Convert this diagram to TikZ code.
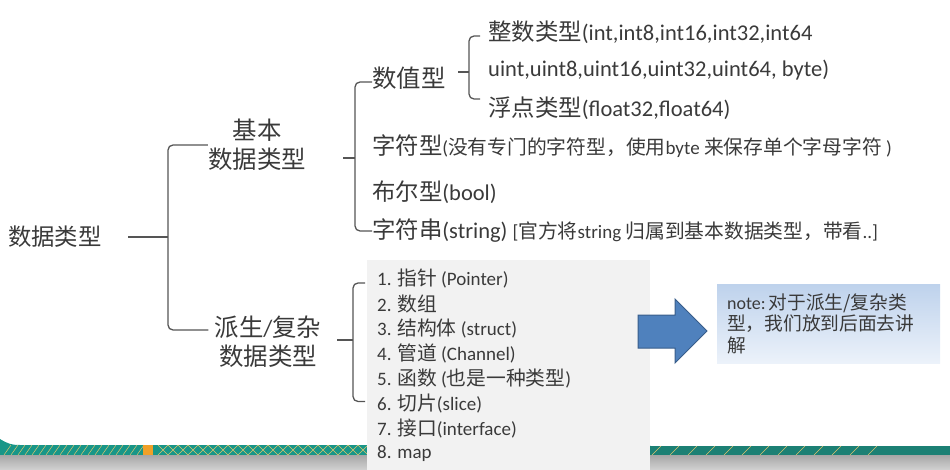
\documentclass[tikz,border=0pt]{standalone}
\usepackage{fontspec}
\setmainfont{Carlito}
\newfontfamily\zhfont[Scale=1.04]{Noto Sans CJK SC}
\newcommand{\zh}[1]{{\zhfont #1}}
\usepackage{xcolor}
\usepackage{tikz}
\usetikzlibrary{positioning,calc}

\definecolor{inkgray}{RGB}{58,58,58}
\definecolor{linegray}{RGB}{85,85,85}
\definecolor{listbg}{RGB}{242,242,242}
\definecolor{arrowblue}{RGB}{79,129,189}
\definecolor{arrowedge}{RGB}{56,93,138}
\definecolor{notetop}{RGB}{190,210,236}
\definecolor{notebot}{RGB}{236,242,250}
\definecolor{bandteal}{RGB}{24,150,136}
\definecolor{banddark}{RGB}{28,128,116}
\definecolor{bandline}{RGB}{222,196,110}
\definecolor{bandorange}{RGB}{240,160,40}

\tikzset{
  txt/.style={inner sep=0pt, anchor=west, text=inkgray},
  bigtxt/.style={txt, font=\fontsize{23.5}{29}\selectfont},
  midtxt/.style={txt, font=\fontsize{22.5}{27}\selectfont},
  itemtxt/.style={txt, font=\fontsize{19}{22}\selectfont},
  bracketline/.style={draw=linegray, line width=1.3pt, rounded corners=5pt},
}
\newcommand{\smalltxt}{\fontsize{19}{22}\selectfont}

\begin{document}
\begin{tikzpicture}[x=1pt, y=-1pt]
\useasboundingbox (0,0) rectangle (950,470);
% bottom band of the slide
\fill[bandteal] (0,439) .. controls (8,444) and (12,445) .. (20,445) -- (650,445) -- (650,455) -- (0,455) -- cycle;
\fill[banddark] (650,446) rectangle (950,455);
\shade[top color=gray!70, bottom color=gray!35] (0,455) rectangle (950,470);
\foreach \x in {4,11,...,138} {
    \draw[bandline, line width=0.5pt] (\x,455) -- (\x+7,445);
}
\fill[bandorange] (143,445) rectangle (153,455);
\foreach \x in {158,168,...,360} {
    \draw[bandline, line width=0.4pt] (\x,455) -- (\x+10,445);
    \draw[bandline, line width=0.4pt] (\x,445) -- (\x+10,455);
}
\foreach \x in {652,670,...,870} {
    \draw[bandline, line width=0.6pt] (\x,455) -- (\x+9,446);
}
% box behind the derived types
\fill[listbg] (367,260) rectangle (650,470);

% tree labels
\node[midtxt] (root) at (8,237) {\zh{数据类型}};
\node[bigtxt, anchor=center, align=center] (basic) at (257,145) {\zh{基本}\\\zh{数据类型}};
\node[bigtxt, anchor=center, align=center] (derived) at (268,342) {\zh{派生}/\zh{复杂}\\\zh{数据类型}};
\node[bigtxt] (num) at (372,78) {\zh{数值型}};
\node[midtxt] (int) at (488,32) {\zh{整数类型}(int,int8,int16,int32,int64};
\node[midtxt] (intb) at (488,70) {uint,uint8,uint16,uint32,uint64, byte)};
\node[midtxt] (float) at (488,108) {\zh{浮点类型}(float32,float64)};
\node[midtxt] (char) at (372,146) {\zh{字符型}{\smalltxt(\zh{没有专门的字符型，使用}byte \zh{来保存单个字母字符} )}};
\node[midtxt] (bool) at (372,192) {\zh{布尔型}(bool)};
\node[midtxt] (str) at (372,231) {\zh{字符串}(string) {\smalltxt[\zh{官方将}string \zh{归属到基本数据类型，带看}..]}};

% derived types list
\foreach \n/\txt in {1/{1. \zh{指针} (Pointer)}, 2/{2. \zh{数组}}, 3/{3. \zh{结构体} (struct)},
    4/{4. \zh{管道} (Channel)}, 5/{5. \zh{函数} (\zh{也是一种类型})}, 6/{6. \zh{切片}(slice)},
    7/{7. \zh{接口}(interface)}, 8/{8. map}} {
    \node[itemtxt] (item\n) at (377,{279+(\n-1)*24.9}) {\txt};
}

% brackets
\coordinate (rootfork) at (168,237);
\coordinate (basicfork) at (355,158);
\coordinate (numfork) at (469,72);
\coordinate (derivedfork) at (353,340);
\draw[bracketline] (basic.west) -| (rootfork) |- ([xshift=-6pt, yshift=12pt]derived.west);
\draw[bracketline] ([xshift=26pt]root.east) -- (rootfork);
\draw[bracketline] (num.west |- 0,82) -| (basicfork) |- (str.west);
\draw[bracketline] (basicfork) -- ++(-12,0);
\draw[bracketline] ([xshift=-8pt, yshift=-4pt]int.west) -| (numfork) |- ([xshift=-8pt, yshift=9pt]float.west);
\draw[bracketline] (numfork) -- ++(-11,0);
\draw[bracketline] ([xshift=-12pt, yshift=-4pt]item1.west) -| (derivedfork) |- ([xshift=-12pt, yshift=2pt]item6.west);
\draw[bracketline] (derivedfork) -- ++(-16,0);

% block arrow to the note
\draw[fill=arrowblue, draw=arrowedge, line width=1pt]
    (638,315) -- (675,315) -- (675,299) -- (707,331) -- (675,363) -- (675,348) -- (638,348) -- cycle;
\node[txt, anchor=north west, top color=notetop, bottom color=notebot, minimum width=223pt,
      minimum height=79pt, text width=203pt, inner xsep=10pt, inner ysep=7pt, align=left,
      font=\fontsize{18}{21.5}\selectfont] (note) at (717,284)
    {note:\,\zh{对于派生/复杂类}\\\zh{型，我们放到后面去讲}\\\zh{解}};
\end{tikzpicture}
\end{document}
